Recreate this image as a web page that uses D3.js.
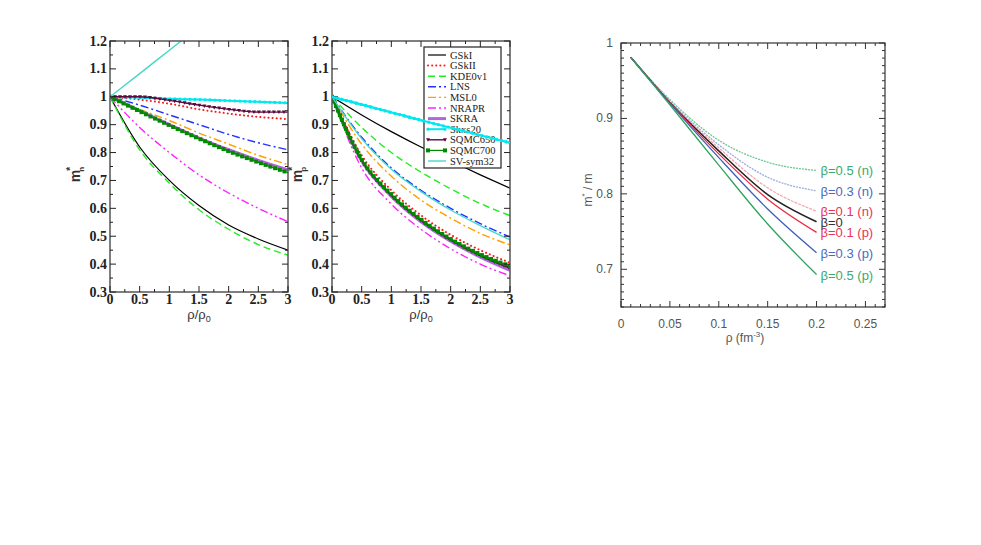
<html>
<head>
    <meta charset="utf-8">
    <script src="https://d3js.org/d3.v7.min.js"></script>
    <style>
        body { margin: 0; background: #fff; }
    </style>
</head>
<body>
<svg id="fig" width="981" height="545" font-family="Liberation Sans, Arial, sans-serif"></svg>
<script>
    // ---- data: effective mass ratios vs rho/rho0 ----
    var rhoRatio = [0, 0.5, 1, 1.5, 2, 2.5, 3];
    var forceNames = ["GSkI", "GSkII", "KDE0v1", "LNS", "MSL0", "NRAPR", "SKRA", "Skxs20", "SQMC650", "SQMC700", "SV-sym32"];

    // neutron m*_n
    var mnGSkI     = [1, 0.82, 0.70, 0.61, 0.54, 0.49, 0.45];
    var mnGSkII    = [1, 0.99, 0.975, 0.955, 0.94, 0.928, 0.92];
    var mnKDE0v1   = [1, 0.81, 0.69, 0.595, 0.525, 0.47, 0.432];
    var mnLNS      = [1, 0.97, 0.935, 0.90, 0.865, 0.835, 0.81];
    var mnMSL0     = [1, 0.955, 0.915, 0.87, 0.83, 0.79, 0.757];
    var mnNRAPR    = [1, 0.89, 0.80, 0.72, 0.655, 0.60, 0.552];
    var mnSKRA     = [1, 0.95, 0.90, 0.852, 0.81, 0.772, 0.738];
    var mnSkxs20   = [1, 0.997, 0.993, 0.99, 0.986, 0.982, 0.978];
    var mnSQMC650  = [1, 1.0, 0.987, 0.97, 0.955, 0.945, 0.945];
    var mnSQMC700  = [1, 0.948, 0.898, 0.85, 0.805, 0.765, 0.728];
    var mnSVsym32  = [1, 1.083, 1.167, 1.25, 1.333, 1.417, 1.5];

    // proton m*_p
    var mpGSkI     = [1, 0.935, 0.875, 0.82, 0.77, 0.72, 0.672];
    var mpGSkII    = [1, 0.79, 0.665, 0.575, 0.505, 0.45, 0.405];
    var mpKDE0v1   = [1, 0.89, 0.80, 0.73, 0.67, 0.617, 0.574];
    var mpLNS      = [1, 0.855, 0.745, 0.665, 0.60, 0.545, 0.497];
    var mpMSL0     = [1, 0.83, 0.715, 0.63, 0.565, 0.51, 0.469];
    var mpNRAPR    = [1, 0.745, 0.615, 0.525, 0.455, 0.40, 0.358];
    var mpSKRA     = [1, 0.77, 0.643, 0.552, 0.482, 0.425, 0.378];
    var mpSkxs20   = [1, 0.972, 0.944, 0.916, 0.889, 0.862, 0.835];
    var mpSQMC650  = [1, 0.772, 0.646, 0.556, 0.486, 0.43, 0.386];
    var mpSQMC700  = [1, 0.775, 0.65, 0.56, 0.49, 0.435, 0.393];
    var mpSVsym32  = [1, 0.85, 0.74, 0.66, 0.594, 0.538, 0.487];

    var leftTicksX = [0, 0.5, 1, 1.5, 2, 2.5, 3];
    var leftTicksY = [0.3, 0.4, 0.5, 0.6, 0.7, 0.8, 0.9, 1, 1.1, 1.2];

    // ---- data: m*/m vs rho for several asymmetries ----
    var rho = [0.01, 0.05, 0.1, 0.15, 0.2];
    var betaLabels = ["β=0.5 (n)", "β=0.3 (n)", "β=0.1 (n)", "β=0", "β=0.1 (p)", "β=0.3 (p)", "β=0.5 (p)"];
    var mB05n = [0.981, 0.925, 0.871, 0.842, 0.831];
    var mB03n = [0.981, 0.923, 0.865, 0.822, 0.804];
    var mB01n = [0.981, 0.922, 0.861, 0.808, 0.777];
    var mB0   = [0.981, 0.921, 0.857, 0.799, 0.763];
    var mB01p = [0.981, 0.921, 0.853, 0.793, 0.749];
    var mB03p = [0.981, 0.920, 0.848, 0.780, 0.722];
    var mB05p = [0.981, 0.918, 0.838, 0.760, 0.693];
    var rightTicksX = [0, 0.05, 0.1, 0.15, 0.2, 0.25];
    var rightTicksY = [0.7, 0.8, 0.9, 1];

    var svg = d3.select("#fig");
    var SERIF = "Liberation Serif, Times New Roman, serif";

    // styles for the 11 Skyrme forces
    var styles = {
        "GSkI":     {c: "#000000", w: 1.2, dash: null},
        "GSkII":    {c: "#ff1a1a", w: 2, dash: "0.1,4", cap: "round"},
        "KDE0v1":   {c: "#22ee22", w: 1.4, dash: "7,4"},
        "LNS":      {c: "#2233ff", w: 1.4, dash: "8,3,2,3"},
        "MSL0":     {c: "#ffa000", w: 1.4, dash: "8,3,2,3"},
        "NRAPR":    {c: "#ff22ff", w: 1.4, dash: "8,3,2,3,2,3"},
        "SKRA":     {c: "#9a30d0", w: 3, dash: null, op: 0.75},
        "Skxs20":   {c: "#00e8f0", w: 2, dash: null, mark: "dot"},
        "SQMC650":  {c: "#5a0a3c", w: 1.4, dash: null, mark: "tri"},
        "SQMC700":  {c: "#008a00", w: 1.2, dash: null, mark: "sq"},
        "SV-sym32": {c: "#44d8c8", w: 1.4, dash: null}
    };

    function drawPanel(px, py, pw, ph, series, sub, withLegend)
    {
        var x = d3.scaleLinear().domain([0, 3]).range([px, px + pw]);
        var y = d3.scaleLinear().domain([0.3, 1.2]).range([py + ph, py]);
        var g = svg.append("g");
        var cid = "clip" + px;
        svg.append("clipPath").attr("id", cid)
            .append("rect").attr("x", px).attr("y", py).attr("width", pw).attr("height", ph);

        var line = d3.line()
            .x(function(d, i){ return x(rhoRatio[i]); })
            .y(function(d){ return y(d); })
            .curve(d3.curveMonotoneX);

        function drawSeries(parent, k)
        {
            var s = styles[forceNames[k]];
            var p = parent.append("path")
                .attr("d", line(series[k]))
                .attr("fill", "none")
                .attr("stroke", s.c)
                .attr("stroke-width", s.w)
                .attr("stroke-opacity", s.op || 1)
                .attr("stroke-linecap", s.cap || "butt");
            if (s.dash) p.attr("stroke-dasharray", s.dash);
            if (s.mark) addMarks(parent, p.node(), s, 5);
        }

        var lines = g.append("g").attr("clip-path", "url(#" + cid + ")");
        forceNames.forEach(function(name, k){ drawSeries(lines, k); });

        // frame and ticks
        g.append("rect").attr("x", px).attr("y", py).attr("width", pw).attr("height", ph)
            .attr("fill", "none").attr("stroke", "#555").attr("stroke-width", 1.5);
        var minorX = d3.range(0, 3.001, 0.25), minorY = d3.range(0.3, 1.2001, 0.05);
        minorX.forEach(function(v, i){
            var len = i % 2 == 0 ? 6 : 3;
            g.append("line").attr("x1", x(v)).attr("x2", x(v)).attr("y1", py + ph).attr("y2", py + ph - len).attr("stroke", "#222");
            g.append("line").attr("x1", x(v)).attr("x2", x(v)).attr("y1", py).attr("y2", py + len).attr("stroke", "#222");
        });
        minorY.forEach(function(v, i){
            var len = i % 2 == 0 ? 6 : 3;
            g.append("line").attr("x1", px).attr("x2", px + len).attr("y1", y(v)).attr("y2", y(v)).attr("stroke", "#222");
            g.append("line").attr("x1", px + pw).attr("x2", px + pw - len).attr("y1", y(v)).attr("y2", y(v)).attr("stroke", "#222");
        });
        g.selectAll(".xt").data(leftTicksX).enter().append("text")
            .attr("x", function(d){ return x(d); }).attr("y", py + ph + 12)
            .attr("text-anchor", "middle").attr("font-size", 14).attr("font-weight", "bold").attr("fill", "#222")
            .style("font-family", SERIF)
            .text(function(d){ return d; });
        g.selectAll(".yt").data(leftTicksY).enter().append("text")
            .attr("x", px - 3).attr("y", function(d){ return y(d) + 4.5; })
            .attr("text-anchor", "end").attr("font-size", 14).attr("font-weight", "bold").attr("fill", "#222")
            .style("font-family", SERIF)
            .text(function(d){ return d; });

        var xl = g.append("text").attr("x", px + pw / 2).attr("y", py + ph + 27)
            .attr("text-anchor", "middle").attr("font-size", 13).attr("fill", "#333");
        xl.append("tspan").text("ρ/ρ");
        xl.append("tspan").attr("font-size", 9).attr("dy", 3).text("0");

        var yl = g.append("text").attr("transform", "translate(" + (px - 30) + "," + (py + ph / 2 + 8) + ") rotate(-90)")
            .attr("text-anchor", "middle").attr("font-size", 14).attr("font-weight", "bold").attr("fill", "#333");
        yl.append("tspan").text("m");
        yl.append("tspan").attr("font-size", 10).attr("dy", -6).attr("dx", -1).text("*");
        yl.append("tspan").attr("font-size", 8).attr("dy", 10).attr("dx", -5).text(sub);

        if (withLegend)
        {
            var lx = 424, ly = 47, lw = 77, lh = 121;
            var lg = g.append("g");
            lg.append("rect").attr("x", lx).attr("y", ly).attr("width", lw).attr("height", lh)
                .attr("fill", "#fff").attr("stroke", "#222").attr("stroke-width", 1.2);
            forceNames.forEach(function(name, k){
                var s = styles[name];
                var yy = ly + 8 + k * 10.6;
                var p = lg.append("path").attr("d", "M" + (lx + 4) + "," + yy + "H" + (lx + 22))
                    .attr("stroke", s.c).attr("stroke-width", s.w).attr("fill", "none")
                    .attr("stroke-opacity", s.op || 1).attr("stroke-linecap", s.cap || "butt");
                if (s.dash) p.attr("stroke-dasharray", s.dash);
                if (s.mark) addMarks(lg, p.node(), s, 17);
                lg.append("text").attr("x", lx + 26).attr("y", yy + 3.5)
                    .style("font-family", SERIF).attr("font-size", 10.5).attr("fill", "#222")
                    .text(name);
            });
            // the Skxs20 curve is drawn over the legend box in the original
            var top = g.append("g").attr("clip-path", "url(#" + cid + ")");
            drawSeries(top, forceNames.indexOf("Skxs20"));
        }
    }

    function addMarks(parent, node, s, step)
    {
        var L = node.getTotalLength();
        for (var t = 0; t <= L + 0.1; t += step)
        {
            var pt = node.getPointAtLength(Math.min(t, L));
            if (s.mark == "dot")
                parent.append("circle").attr("cx", pt.x).attr("cy", pt.y).attr("r", 1.6).attr("fill", s.c);
            else if (s.mark == "sq")
                parent.append("rect").attr("x", pt.x - 2).attr("y", pt.y - 2).attr("width", 4).attr("height", 4).attr("fill", s.c);
            else
                parent.append("path").attr("d", "M" + (pt.x - 2) + "," + (pt.y - 1.5) + "h4l-2,3.5z").attr("fill", s.c);
        }
    }

    drawPanel(110, 41, 178, 251,
        [mnGSkI, mnGSkII, mnKDE0v1, mnLNS, mnMSL0, mnNRAPR, mnSKRA, mnSkxs20, mnSQMC650, mnSQMC700, mnSVsym32],
        "n", false);
    drawPanel(332, 41, 178, 251,
        [mpGSkI, mpGSkII, mpKDE0v1, mpLNS, mpMSL0, mpNRAPR, mpSKRA, mpSkxs20, mpSQMC650, mpSQMC700, mpSVsym32],
        "p", true);

    // ---- right panel ----
    var RX = d3.scaleLinear().domain([0, 0.27]).range([621, 885]);
    var RY = d3.scaleLinear().domain([0.65, 1.0]).range([307, 43]);
    var rg = svg.append("g");
    var betaSeries = [mB05n, mB03n, mB01n, mB0, mB01p, mB03p, mB05p];
    var betaLine = ["#6cc894", "#98acd8", "#f7a8b0", "#222222", "#ee2a40", "#3d62b4", "#2ea35e"];
    var betaText = ["#3aaa70", "#4a6cc0", "#e8345a", "#333333", "#e8345a", "#4a6cc0", "#3aaa70"];
    var betaDash = ["2,1", "2,1", "3,1", null, null, null, null];

    var rline = d3.line()
        .x(function(d, i){ return RX(rho[i]); })
        .y(function(d){ return RY(d); })
        .curve(d3.curveMonotoneX);

    betaSeries.forEach(function(ser, k){
        var p = rg.append("path").attr("d", rline(ser)).attr("fill", "none")
            .attr("stroke", betaLine[k]).attr("stroke-width", k == 3 ? 1.5 : 1.3);
        if (betaDash[k]) p.attr("stroke-dasharray", betaDash[k]);
        rg.append("text").attr("x", RX(rho[rho.length - 1]) + 4).attr("y", RY(ser[ser.length - 1]) + 5)
            .attr("font-size", 13).attr("fill", betaText[k]).text(betaLabels[k]);
    });

    rg.append("rect").attr("x", 621).attr("y", 43).attr("width", 264).attr("height", 264)
        .attr("fill", "none").attr("stroke", "#333").attr("stroke-width", 1.2);
    d3.range(0, 0.2701, 0.01).forEach(function(v, i){
        var len = i % 5 == 0 ? 6 : 3;
        rg.append("line").attr("x1", RX(v)).attr("x2", RX(v)).attr("y1", 307).attr("y2", 307 - len).attr("stroke", "#333");
        rg.append("line").attr("x1", RX(v)).attr("x2", RX(v)).attr("y1", 43).attr("y2", 43 + len).attr("stroke", "#333");
    });
    d3.range(0.65, 1.0001, 0.01).forEach(function(v){
        var major = Math.abs(v * 10 - Math.round(v * 10)) < 1e-6;
        var len = major ? 6 : 3;
        rg.append("line").attr("x1", 621).attr("x2", 621 + len).attr("y1", RY(v)).attr("y2", RY(v)).attr("stroke", "#333");
        rg.append("line").attr("x1", 885).attr("x2", 885 - len).attr("y1", RY(v)).attr("y2", RY(v)).attr("stroke", "#333");
    });
    rg.selectAll(".rxt").data(rightTicksX).enter().append("text")
        .attr("x", function(d){ return RX(d); }).attr("y", 328)
        .attr("text-anchor", "middle").attr("font-size", 12).attr("fill", "#555")
        .text(function(d){ return d; });
    rg.selectAll(".ryt").data(rightTicksY).enter().append("text")
        .attr("x", 613).attr("y", function(d){ return RY(d) + 4; })
        .attr("text-anchor", "end").attr("font-size", 12).attr("fill", "#555")
        .text(function(d){ return d; });

    var rxl = rg.append("text").attr("x", 745).attr("y", 342).attr("text-anchor", "middle")
        .attr("font-size", 12).attr("fill", "#555");
    rxl.append("tspan").text("ρ (fm");
    rxl.append("tspan").attr("font-size", 8).attr("dy", -5).text("-3");
    rxl.append("tspan").attr("dy", 5).text(")");

    var ryl = rg.append("text").attr("transform", "translate(592,190) rotate(-90)")
        .attr("text-anchor", "middle").attr("font-size", 12).attr("fill", "#555");
    ryl.append("tspan").text("m");
    ryl.append("tspan").attr("font-size", 8).attr("dy", -5).text("*");
    ryl.append("tspan").attr("dy", 5).text(" / m");
</script>
</body>
</html>
